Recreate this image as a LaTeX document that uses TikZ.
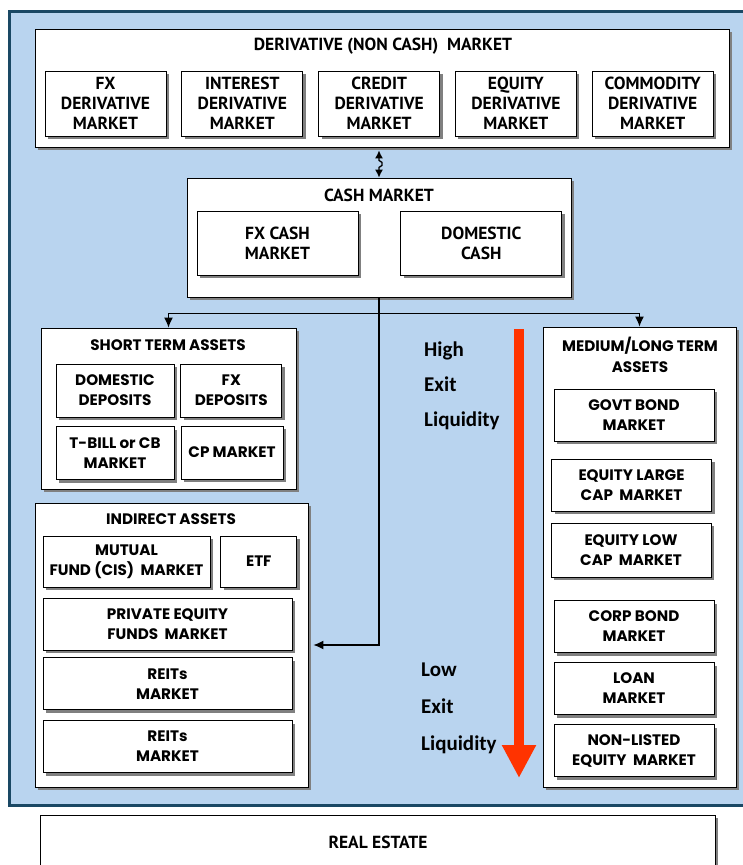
\documentclass[tikz,border=0pt]{standalone}
\usepackage{fontspec}
\setmainfont{Carlito}
\newfontfamily\dinfont{PT Sans}
\newfontfamily\geofont{Poppins}
\usetikzlibrary{positioning, calc, shadows, arrows.meta}
\definecolor{frameBlue}{RGB}{185,212,239}
\definecolor{frameEdge}{RGB}{26,72,100}
\definecolor{liqRed}{RGB}{255,51,0}
\tikzset{%
  panel/.style = {rectangle, draw, fill=white, line width=0.8pt,
                  drop shadow={shadow xshift=3pt, shadow yshift=-3pt,
                               fill=black!50, opacity=1}},
  mkt/.style = {panel, align=center, inner sep=1pt},
  cashMkt/.style = {mkt, font=\dinfont\bfseries\fontsize{17.5}{20}\selectfont},
  derivMkt/.style = {cashMkt, minimum width=121pt, minimum height=65pt},
  assetMkt/.style = {mkt, font=\geofont\bfseries\fontsize{15.2}{20}\selectfont},
  longMkt/.style = {assetMkt, minimum width=160pt, minimum height=52pt},
  heading/.style = {font=\dinfont\bfseries\fontsize{17.5}{20}\selectfont},
  assetHeading/.style = {font=\geofont\bfseries\fontsize{15.2}{21}\selectfont, align=center},
  link/.style = {draw, line width=1.3pt, -{Latex[length=10pt, width=9pt]}},
  swap/.style = {draw, line width=1.3pt, {Latex[length=8pt, width=8pt]}-{Latex[length=8pt, width=8pt]}},
  liqText/.style = {font=\bfseries\fontsize{21}{35}\selectfont,
                    align=left, anchor=west, inner sep=0pt}
  }

\begin{document}
\begin{tikzpicture}[x=1pt, y=-1pt]
    \useasboundingbox (0,0) rectangle (743,865);
    \path[fill=frameBlue, draw=frameEdge, line width=3pt] (9,11) rectangle (770,805);

    % derivative market
    \node (derivBox)    [panel, minimum width=694pt, minimum height=118pt] at (382,88) {};
    \node (derivTitle)  [heading] at (383,46) {DERIVATIVE (NON CASH)\ \ MARKET};
    \node (fxDeriv)     [derivMkt] at (105.5,103.5)       {FX\\DERIVATIVE\\MARKET};
    \node (rateDeriv)   [derivMkt, right = 15pt of fxDeriv]     {INTEREST\\DERIVATIVE\\MARKET};
    \node (creditDeriv) [derivMkt, right = 15pt of rateDeriv]   {CREDIT\\DERIVATIVE\\MARKET};
    \node (equityDeriv) [derivMkt, right = 15pt of creditDeriv] {EQUITY\\DERIVATIVE\\MARKET};
    \node (commodDeriv) [derivMkt, right = 15pt of equityDeriv] {COMMODITY\\DERIVATIVE\\MARKET};

    % cash market
    \node (cashBox)   [panel, minimum width=384pt, minimum height=119pt] at (379,237.5) {};
    \node (cashTitle) [heading] at (379,195) {CASH MARKET};
    \node (fxCash)    [cashMkt, minimum width=161pt, minimum height=64pt] at (277.5,243) {FX CASH\\MARKET};
    \node (domCash)   [cashMkt, minimum width=161pt, minimum height=64pt, right = 42pt of fxCash] {DOMESTIC\\CASH};

    % short term assets
    \node (shortBox)   [panel, minimum width=255pt, minimum height=161pt] at (168.5,408.5) {};
    \node (shortTitle) [assetHeading] at (168,345) {SHORT TERM ASSETS};
    \node (domDep) [assetMkt, minimum width=118pt, minimum height=53pt] at (115,390.5) {DOMESTIC\\DEPOSITS};
    \node (fxDep)  [assetMkt, minimum width=101pt, minimum height=53pt, right = 6pt of domDep] {FX\\DEPOSITS};
    \node (tbill)  [assetMkt, minimum width=118pt, minimum height=53pt, below = 9pt of domDep] {T-BILL or CB\\MARKET};
    \node (cpMkt)  [assetMkt, minimum width=102pt, minimum height=53pt] at (232,452.5) {CP MARKET};

    % indirect assets
    \node (indirectBox)   [panel, minimum width=273pt, minimum height=284pt] at (171.5,645) {};
    \node (indirectTitle) [assetHeading] at (171,519) {INDIRECT ASSETS};
    \node (mutualFund) [assetMkt, minimum width=167pt, minimum height=51pt] at (126.5,561.5) {MUTUAL\\FUND (CIS)\ \ MARKET};
    \node (etf)        [assetMkt, minimum width=76pt, minimum height=51pt, right = 10pt of mutualFund] {ETF};
    \node (privEquity) [assetMkt, minimum width=249pt, minimum height=52pt] at (167.5,624) {PRIVATE EQUITY\\FUNDS\ \ MARKET};
    \node (reits)      [assetMkt, minimum width=249pt, minimum height=52pt, below = 7pt of privEquity] {REITs\\MARKET};
    \node (reitsTwo)   [assetMkt, minimum width=249pt, minimum height=52pt, below = 10pt of reits] {REITs\\MARKET};

    % medium/long term assets
    \node (medLongBox)   [panel, minimum width=193pt, minimum height=460pt] at (639.5,557) {};
    \node (medLongTitle) [assetHeading] at (640,354.5) {MEDIUM/LONG TERM\\ASSETS};
    \node (govtBond)  [longMkt] at (634,415)   {GOVT BOND\\MARKET};
    \node (eqLarge)   [longMkt] at (631.5,485) {EQUITY LARGE\\CAP\ \ MARKET};
    \node (eqLow)     [longMkt, minimum height=54pt] at (631,550) {EQUITY LOW\\CAP\ \ MARKET};
    \node (corpBond)  [longMkt] at (634,626.5) {CORP BOND\\MARKET};
    \node (loanMkt)   [longMkt] at (634,688.5) {LOAN\\MARKET};
    \node (nonListed) [longMkt] at (634,750.5) {NON-LISTED\\EQUITY\ \ MARKET};

    % real estate
    \node (realEstate) [panel, minimum width=675pt, minimum height=80pt, anchor=north] at (377.5,815) {};
    \node (realTitle)  [heading] at (378,842) {REAL ESTATE};

    % liquidity scale
    \coordinate (liqTop) at (519,329);
    \coordinate (liqEnd) at (519,778);
    \draw[liqRed, line width=10pt, -{Triangle[width=32pt, length=33pt]}] (liqTop) -- (liqEnd);
    \node (highTxt) [liqText] at (424,386) {High\\Exit\\Liquidity};
    \node (lowTxt)  [liqText, font=\bfseries\fontsize{21}{37}\selectfont] at (421,708) {Low\\Exit\\Liquidity};

    \draw[swap] ($(cashBox.north |- derivBox.south)+(0,3)$) -- ++(0,10) -- ++(3,2)
                -- ++(0,3) -- ++(-3,2) -- (cashBox.north);
    \draw[link] (cashBox.south) -- ++(0,16) coordinate (split) -| (shortBox.north);
    \draw[link] (split) -| (medLongBox.north);
    \draw[link] (split) |- ($(indirectBox.east)+(5,0)$);
\end{tikzpicture}
\end{document}
